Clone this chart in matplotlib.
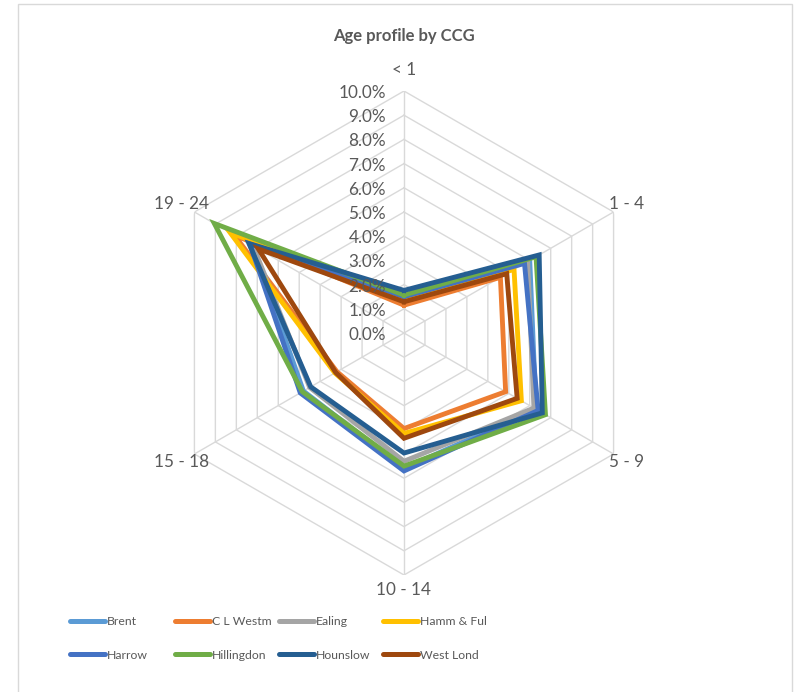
import numpy as np
import matplotlib
matplotlib.use("Agg")
import matplotlib.pyplot as plt
import matplotlib.transforms as mtransforms
from matplotlib.patches import Rectangle
from matplotlib.lines import Line2D

# age bands (radar axes, clockwise from top)
ages = ["< 1", "1 - 4", "5 - 9", "10 - 14", "15 - 18", "19 - 24"]

# share of population per age band, %
brent = [1.45, 6.0, 6.3, 5.6, 4.8, 7.25]
cl_westm = [1.15, 4.6, 4.85, 3.95, 3.2, 8.1]
ealing = [1.45, 5.9, 6.2, 5.3, 4.5, 7.2]
hamm_ful = [1.38, 5.25, 5.6, 4.15, 3.3, 8.3]
harrow = [1.5, 5.75, 6.4, 5.7, 4.95, 7.35]
hillingdon = [1.57, 6.3, 6.75, 5.5, 4.85, 9.05]
hounslow = [1.76, 6.45, 6.6, 4.96, 4.45, 7.4]
west_lond = [1.29, 4.9, 5.4, 4.35, 3.26, 6.95]

names = ["Brent", "C L Westm", "Ealing", "Hamm & Ful",
         "Harrow", "Hillingdon", "Hounslow", "West Lond"]
series = [brent, cl_westm, ealing, hamm_ful,
          harrow, hillingdon, hounslow, west_lond]
colors = ["#5B9BD5", "#ED7D31", "#A5A5A5", "#FFC000",
          "#4472C4", "#70AD47", "#255E91", "#9E480E"]

ticks = np.arange(0, 11)

plt.rcParams['font.family'] = ['Lato', 'DejaVu Sans']
txt = "#595959"
grid = "#D9D9D9"

W, H = 795, 692
fig = plt.figure(figsize=(W / 100, H / 100), dpi=100)

# outer chart border
fig.patches.append(Rectangle((18 / W, -0.01), 774 / W, 1 - 4 / H + 0.01,
                             transform=fig.transFigure, fill=False,
                             edgecolor=grid, linewidth=1))

cx, cy, R = 404, 333, 242
ax = fig.add_axes([(cx - R) / W, (H - cy - R) / H, 2 * R / W, 2 * R / H],
                  projection="polar")
ax.set_theta_offset(np.pi / 2)
ax.set_theta_direction(-1)
ax.set_ylim(0, 10)
ax.grid(False)
ax.spines["polar"].set_visible(False)
ax.set_xticks([])
ax.set_yticks([])
ax.patch.set_alpha(0)

theta = np.arange(len(ages)) * 2 * np.pi / len(ages)
theta_c = np.append(theta, theta[0])

# hexagonal gridlines and spokes
for v in ticks[1:]:
    ax.plot(theta_c, [v] * len(theta_c), color=grid, lw=1, zorder=1)
for t in theta:
    ax.plot([t, t], [0, ticks[-1]], color=grid, lw=1, zorder=1)

# series
for name, vals, c in zip(names, series, colors):
    ax.plot(theta_c, vals + vals[:1], color=c, lw=3.5, label=name,
            solid_joinstyle="miter", zorder=3)

# radial value labels
off = mtransforms.offset_copy(ax.transData, fig=fig, x=-18, y=-2, units="dots")
for v in ticks:
    ax.text(0, v, f"{v:.1f}%", transform=off, ha="right", va="center",
            fontsize=12.3, color=txt, zorder=4)

# category labels
for i, (t, lab) in enumerate(zip(theta, ages)):
    r = 10.87 if i == 0 else 10.62
    ax.text(t, r, lab, ha="center", va="center", fontsize=12.3, color=txt)

fig.text(cx / W, 1 - 36 / H, "Age profile by CCG", ha="center", va="center",
         fontsize=12, fontweight="bold", color=txt)

# legend: four columns, two rows
col_x = [70, 175, 279, 383]
for j in range(4):
    hs = [Line2D([0], [0], color=colors[k], lw=3.6, solid_capstyle="round")
          for k in (j, j + 4)]
    fig.legend(hs, [names[j], names[j + 4]], loc="upper left",
               bbox_to_anchor=(col_x[j] / W, 1 - 616 / H), frameon=False,
               fontsize=8.8, labelcolor=txt, handlelength=2.85,
               handletextpad=0.2, labelspacing=1.85, borderpad=0,
               borderaxespad=0)

fig.savefig("out.png", dpi=100, facecolor="white")
